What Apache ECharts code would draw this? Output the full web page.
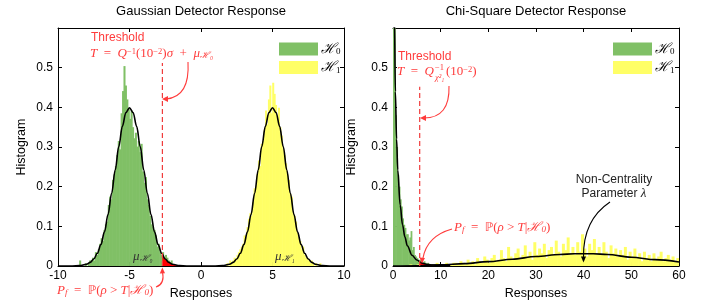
<!DOCTYPE html>
<html><head><meta charset="utf-8">
<script src="https://cdn.jsdelivr.net/npm/echarts@6/dist/echarts.min.js"></script>
<style>html,body{margin:0;padding:0;background:#fff}#c{width:704px;height:308px}</style>
</head><body><div id="c"></div><script>
// ---------------- DATA ----------------
const leftTitle = 'Gaussian Detector Response';
const rightTitle = 'Chi-Square Detector Response';
const xName = 'Responses';
const yName = 'Histogram';
const seriesNames = ['H0', 'H1'];

const leftXTicks = { min: -10, max: 10, interval: 5 };
const rightXTicks = { min: 0, max: 60, interval: 10 };
const yTicks = { min: 0, max: 0.6, interval: 0.1 };

// Gaussian: histogram bins (start, width, heights)
const gH0Start = -8.6, gBinW = 0.1;
const gH0Vals = [
  0.000, 0.014, 0.000, 0.000, 0.000, 0.007, 0.000, 0.007, 0.014, 0.014,
  0.021, 0.014, 0.035, 0.028, 0.042, 0.056, 0.070, 0.063, 0.091, 0.105,
  0.112, 0.154, 0.175, 0.168, 0.217, 0.231, 0.252, 0.280, 0.315, 0.294,
  0.385, 0.441, 0.504, 0.455, 0.420, 0.399, 0.371, 0.392, 0.350, 0.322,
  0.336, 0.301, 0.315, 0.287, 0.308, 0.238, 0.210, 0.224, 0.168, 0.154,
  0.126, 0.105, 0.098, 0.091, 0.077, 0.049, 0.056, 0.035, 0.028, 0.035,
  0.021, 0.028, 0.021, 0.014, 0.007, 0.014
];
const gH1Start = 1.8;
const gH1Vals = [
  0.007, 0.000, 0.014, 0.007, 0.014, 0.021, 0.014, 0.028, 0.035, 0.042,
  0.049, 0.056, 0.077, 0.070, 0.098, 0.119, 0.133, 0.126, 0.161, 0.196,
  0.203, 0.231, 0.266, 0.252, 0.308, 0.315, 0.343, 0.392, 0.357, 0.420,
  0.455, 0.385, 0.462, 0.434, 0.406, 0.371, 0.399, 0.350, 0.329, 0.294,
  0.280, 0.259, 0.231, 0.217, 0.182, 0.175, 0.133, 0.126, 0.112, 0.084,
  0.070, 0.063, 0.042, 0.049, 0.028, 0.021, 0.021, 0.014, 0.007, 0.014,
  0.007, 0.000, 0.007, 0.000, 0.000, 0.007
];
// Gaussian pdf curve
const gCurveX = [-10, -9, -8.5, -8, -7.75, -7.5, -7.25, -7, -6.75, -6.5, -6.25, -6, -5.75, -5.5, -5.25, -5,
  -4.75, -4.5, -4.25, -4, -3.75, -3.5, -3.25, -3, -2.75, -2.5, -2.25, -2, -1.5, -1, 0,
  1, 1.5, 2, 2.25, 2.5, 2.75, 3, 3.25, 3.5, 3.75, 4, 4.25, 4.5, 4.75, 5,
  5.25, 5.5, 5.75, 6, 6.25, 6.5, 6.75, 7, 7.25, 7.5, 7.75, 8, 8.5, 9, 10];
const gCurveY = [0, 0.0001, 0.0009, 0.0044, 0.0091, 0.0175, 0.032, 0.054, 0.086, 0.130, 0.183, 0.242, 0.301, 0.352, 0.387, 0.399,
  0.387, 0.352, 0.301, 0.242, 0.183, 0.130, 0.086, 0.054, 0.032, 0.0175, 0.0091, 0.0044, 0.0009, 0.0001, 0,
  0.0001, 0.0009, 0.0044, 0.0091, 0.0175, 0.032, 0.054, 0.086, 0.130, 0.183, 0.242, 0.301, 0.352, 0.387, 0.399,
  0.387, 0.352, 0.301, 0.242, 0.183, 0.130, 0.086, 0.054, 0.032, 0.0175, 0.0091, 0.0044, 0.0009, 0.0001, 0];
const gThreshold = -2.7;
const gThresholdTop = 0.512;
const gTailX = [-2.7, -2.5, -2.25, -2, -1.75, -1.5, -1.25];
const gTailY = [0.030, 0.0175, 0.0091, 0.0044, 0.002, 0.0009, 0.0003];

// Chi-square: histogram bins
const cH0Start = 0, cH0W = 0.25;
const cH0Vals = [
  1.200, 0.600, 0.380, 0.300, 0.230, 0.200, 0.168, 0.150, 0.120, 0.104,
  0.096, 0.080, 0.080, 0.064, 0.072, 0.088, 0.040, 0.048, 0.028, 0.024,
  0.020, 0.016, 0.012, 0.016, 0.008, 0.004, 0.012, 0.008, 0.000, 0.008,
  0.004, 0.000, 0.004, 0.000, 0.000, 0.004
];
const cH1Start = 3, cH1W = 0.5;
const cH1Vals = [
  0.000, 0.004, 0.000, 0.000, 0.004, 0.000, 0.004, 0.000, 0.000, 0.004,
  0.004, 0.000, 0.008, 0.000, 0.004, 0.004, 0.008, 0.000, 0.004, 0.008,
  0.008, 0.004, 0.012, 0.008, 0.004, 0.016, 0.008, 0.012, 0.004, 0.020,
  0.012, 0.008, 0.024, 0.016, 0.008, 0.020, 0.028, 0.012, 0.016, 0.040,
  0.020, 0.012, 0.048, 0.024, 0.016, 0.032, 0.044, 0.020, 0.028, 0.052,
  0.024, 0.036, 0.016, 0.060, 0.028, 0.044, 0.032, 0.056, 0.020, 0.040,
  0.048, 0.028, 0.064, 0.036, 0.024, 0.056, 0.040, 0.072, 0.032, 0.048,
  0.028, 0.060, 0.036, 0.080, 0.044, 0.024, 0.056, 0.040, 0.068, 0.032,
  0.048, 0.028, 0.060, 0.036, 0.020, 0.052, 0.032, 0.044, 0.024, 0.040,
  0.028, 0.048, 0.016, 0.036, 0.024, 0.044, 0.020, 0.032, 0.012, 0.036,
  0.020, 0.028, 0.012, 0.032, 0.016, 0.024, 0.036, 0.012, 0.020, 0.028,
  0.016, 0.024, 0.012, 0.020
];
const cH0CurveX = [0.02, 0.05, 0.1, 0.2, 0.3, 0.5, 0.75, 1, 1.5, 2, 2.5, 3, 4, 5, 6, 7, 8, 10, 12];
const cH0CurveY = [2.8, 1.75, 1.2, 0.81, 0.63, 0.44, 0.32, 0.242, 0.154, 0.104, 0.073, 0.051, 0.027, 0.015, 0.008, 0.0045, 0.0025, 0.0009, 0.0003];
const cH1CurveX = [0, 5, 10, 15, 20, 25, 30, 35, 38, 40, 42, 45, 50, 55, 60];
const cH1CurveY = [0, 0.0008, 0.003, 0.006, 0.011, 0.017, 0.024, 0.029, 0.031, 0.031, 0.031, 0.029, 0.022, 0.016, 0.010];
const cThreshold = 5.6;
const cThresholdTop = 0.452;
const cTailX = [5.6, 6, 7, 8, 9];
const cTailY = [0.011, 0.008, 0.0045, 0.0025, 0.0015];

// ---------------- STYLE ----------------
const GREEN = '#80c066', YELLOW = '#ffff66', RED = '#ff0000', RTXT = '#ff3b3b';
const SANS = 'Liberation Sans, Arial, sans-serif';
const SERIF = 'Liberation Serif, DejaVu Serif, serif';

function bins(start, w, vals) { return vals.map((v, i) => [start + i * w, start + (i + 1) * w, v]); }
function pairs(xs, ys) { return xs.map((x, i) => [x, ys[i]]); }

function histSeries(name, data, xi, color) {
  return {
    name: name, type: 'custom', xAxisIndex: xi, yAxisIndex: xi, z: 2,
    itemStyle: { color: color },
    encode: { x: [0, 1], y: 2 },
    data: data,
    renderItem: function (params, api) {
      const p0 = api.coord([api.value(0), api.value(2)]);
      const p1 = api.coord([api.value(1), 0]);
      const r = echarts.graphic.clipRectByRect(
        { x: p0[0] - 0.3, y: p0[1], width: p1[0] - p0[0] + 0.6, height: p1[1] - p0[1] },
        { x: params.coordSys.x, y: params.coordSys.y, width: params.coordSys.width, height: params.coordSys.height });
      if (!r) return null;
      return { type: 'rect', shape: r, style: { fill: color } };
    }
  };
}
function curve(data, xi) {
  return { type: 'line', xAxisIndex: xi, yAxisIndex: xi, data: data, smooth: 0.35, smoothMonotone: 'x',
    symbol: 'none', clip: true, z: 5, silent: true, lineStyle: { color: '#000', width: 1.6 } };
}
function tail(data, xi) {
  return { type: 'line', xAxisIndex: xi, yAxisIndex: xi, data: data, smooth: 0.3, symbol: 'none', z: 4, silent: true,
    lineStyle: { width: 0 }, areaStyle: { color: RED, opacity: 1 } };
}
function thresh(t, top, xi) {
  return { type: 'line', xAxisIndex: xi, yAxisIndex: xi, data: [[t, 0], [t, top]], symbol: 'none', z: 6, silent: true,
    lineStyle: { color: '#f03c3c', width: 1.2, type: [5, 3] } };
}

const axLine = { onZero: false, lineStyle: { color: '#000', width: 1 } };
const tick = { inside: true, length: 4, lineStyle: { color: '#000' } };
const lab = { color: '#000', fontSize: 12, fontFamily: SANS };
function xAx(grid, rng, pos, named) {
  return Object.assign({ gridIndex: grid, type: 'value', position: pos, splitLine: { show: false },
    axisLine: axLine, axisTick: tick,
    axisLabel: Object.assign({ show: named, margin: 4 }, lab),
    name: named ? xName : '', nameLocation: 'middle', nameGap: 17,
    nameTextStyle: { color: '#000', fontSize: 12.5, fontFamily: SANS } }, rng);
}
function yAx(grid, pos, named, gap) {
  return Object.assign({ gridIndex: grid, type: 'value', position: pos, splitLine: { show: false },
    axisLine: axLine, axisTick: tick,
    axisLabel: Object.assign({ show: named, margin: 5,
      formatter: v => (v > 0.55 ? '' : (v === 0 ? '0' : v.toFixed(1))) }, lab),
    name: named ? yName : '', nameLocation: 'middle', nameGap: gap, nameRotate: 90,
    nameTextStyle: { color: '#000', fontSize: 12.5, fontFamily: SANS } }, yTicks);
}

const legendRich = { h: { fontFamily: SERIF, fontSize: 14, fontStyle: 'italic', color: '#000' },
  s: { fontFamily: SERIF, fontSize: 9, color: '#000', verticalAlign: 'bottom', padding: [6, 0, 0, 0] } };
function legendAt(left) {
  return { data: seriesNames, left: left, top: 37, orient: 'vertical', icon: 'rect', itemWidth: 39, itemHeight: 13,
    itemGap: 4, selectedMode: false,
    formatter: n => '{h|ℋ}{s|' + n.slice(1) + '}', textStyle: { rich: legendRich, padding: [0, 0, 0, -2] } };
}

function rs(extra, col) { return Object.assign({ fontFamily: SERIF, fontSize: 13, fill: col, color: col }, extra); }
const mathRich = {
  i: rs({ fontStyle: 'italic' }, RTXT),
  r: rs({}, RTXT),
  sup: rs({ fontSize: 8.5, verticalAlign: 'top' }, RTXT),
  sub: rs({ fontSize: 9, fontStyle: 'italic', verticalAlign: 'bottom' }, RTXT),
  bb: rs({ fontFamily: 'DejaVu Sans', fontSize: 12 }, RTXT)
};
const muRich = {
  i: rs({ fontStyle: 'italic' }, '#333'),
  sub: rs({ fontStyle: 'italic', fontSize: 9, verticalAlign: 'bottom' }, '#333')
};
function txt(x, y, text, opts) {
  return { type: 'text', x: x, y: y, z: 100, silent: true,
    style: Object.assign({ text: text, fill: '#000', fontSize: 12, fontFamily: SANS, align: 'left', verticalAlign: 'middle' }, opts || {}) };
}
function arrowCurve(x1, y1, cx, cy, x2, y2, color) {
  return { type: 'bezierCurve', z: 100, silent: true, shape: { x1: x1, y1: y1, cpx1: cx, cpy1: cy, x2: x2, y2: y2 },
    style: { stroke: color, lineWidth: 1.1, fill: null } };
}
function head(pts, color) {
  return { type: 'polygon', z: 100, silent: true, shape: { points: pts }, style: { fill: color } };
}
const pfText = '{i|P}{sub|f}{r|  =  }{bb|ℙ}{r|(}{i|ρ}{r| > }{i|T}{r||}{i|ℋ}{sub|0}{r|)}';

const graphics = [
  txt(201, 11, leftTitle, { align: 'center', fontSize: 13 }),
  txt(536, 11, rightTitle, { align: 'center', fontSize: 13 }),
  // left threshold annotation
  txt(91, 38, 'Threshold', { fill: RTXT }),
  txt(90, 54, '{i|T}{r|  =  }{i|Q}{sup|−1}{r|(10}{sup|−2}{r|)}{i|σ}{r|  +  }{i|μ}{sub|ℋ₀}', { rich: mathRich }),
  arrowCurve(188, 62, 190, 97, 166, 99, RTXT),
  head([[162, 99], [168, 96], [168, 102]], RTXT),
  txt(57, 291, pfText, { rich: mathRich }),
  arrowCurve(156, 287, 165, 284, 162.5, 272, RTXT),
  head([[162.3, 267.5], [159.8, 273.5], [165, 273.2]], RTXT),
  txt(133, 257, '{i|μ}{sub|ℋ₀}', { rich: muRich }),
  txt(275, 257, '{i|μ}{sub|ℋ₁}', { rich: muRich }),
  // right threshold annotation
  txt(398, 57, 'Threshold', { fill: RTXT }),
  txt(397, 72, '{i|T}{r|  =  }{i|Q}', { rich: mathRich }),
  txt(435, 68, '−1', { fill: RTXT, fontSize: 8.5, fontFamily: SERIF }),
  txt(435, 78, 'χ²₁', { fill: RTXT, fontSize: 8.5, fontFamily: SERIF, fontStyle: 'italic' }),
  txt(446, 72, '{r|(10}{sup|−2}{r|)}', { rich: mathRich }),
  arrowCurve(449, 86, 450, 118, 424, 118, RTXT),
  head([[420, 118], [426, 115], [426, 121]], RTXT),
  txt(454, 228, pfText, { rich: mathRich }),
  arrowCurve(452, 229, 427, 236, 423, 258, RTXT),
  head([[422, 263.5], [419.5, 257.5], [425, 258]], RTXT),
  // non-centrality annotation
  txt(614, 180, 'Non-Centrality', { align: 'center', fill: '#222' }),
  txt(614, 194, 'Parameter {i|λ}', { align: 'center', fill: '#222', rich: { i: rs({ fontStyle: 'italic' }, '#222') } }),
  arrowCurve(610, 202, 583, 220, 583.5, 257, '#000'),
  head([[583.5, 262.5], [581, 256.5], [586, 256.5]], '#000')
];

const chart = echarts.init(document.getElementById('c'));
chart.setOption({
  animation: false,
  backgroundColor: '#fff',
  grid: [
    { left: 58, right: 360, top: 28, bottom: 42 },
    { left: 393, right: 25, top: 28, bottom: 42 }
  ],
  xAxis: [xAx(0, leftXTicks, 'bottom', true), xAx(0, leftXTicks, 'top', false),
          xAx(1, rightXTicks, 'bottom', true), xAx(1, rightXTicks, 'top', false)],
  yAxis: [yAx(0, 'left', true, 30), yAx(0, 'right', false, 0),
          yAx(1, 'left', true, 35), yAx(1, 'right', false, 0)],
  legend: [legendAt(274), legendAt(608)],
  series: [
    histSeries('H0', bins(gH0Start, gBinW, gH0Vals), 0, GREEN),
    histSeries('H1', bins(gH1Start, gBinW, gH1Vals), 0, YELLOW),
    tail(pairs(gTailX, gTailY), 0),
    curve(pairs(gCurveX, gCurveY), 0),
    thresh(gThreshold, gThresholdTop, 0),
    histSeries('H0', bins(cH0Start, cH0W, cH0Vals), 2, GREEN),
    histSeries('H1', bins(cH1Start, cH1W, cH1Vals), 2, YELLOW),
    tail(pairs(cTailX, cTailY), 2),
    curve(pairs(cH0CurveX, cH0CurveY), 2),
    curve(pairs(cH1CurveX, cH1CurveY), 2),
    thresh(cThreshold, cThresholdTop, 2)
  ],
  graphic: graphics
});
</script></body></html>
